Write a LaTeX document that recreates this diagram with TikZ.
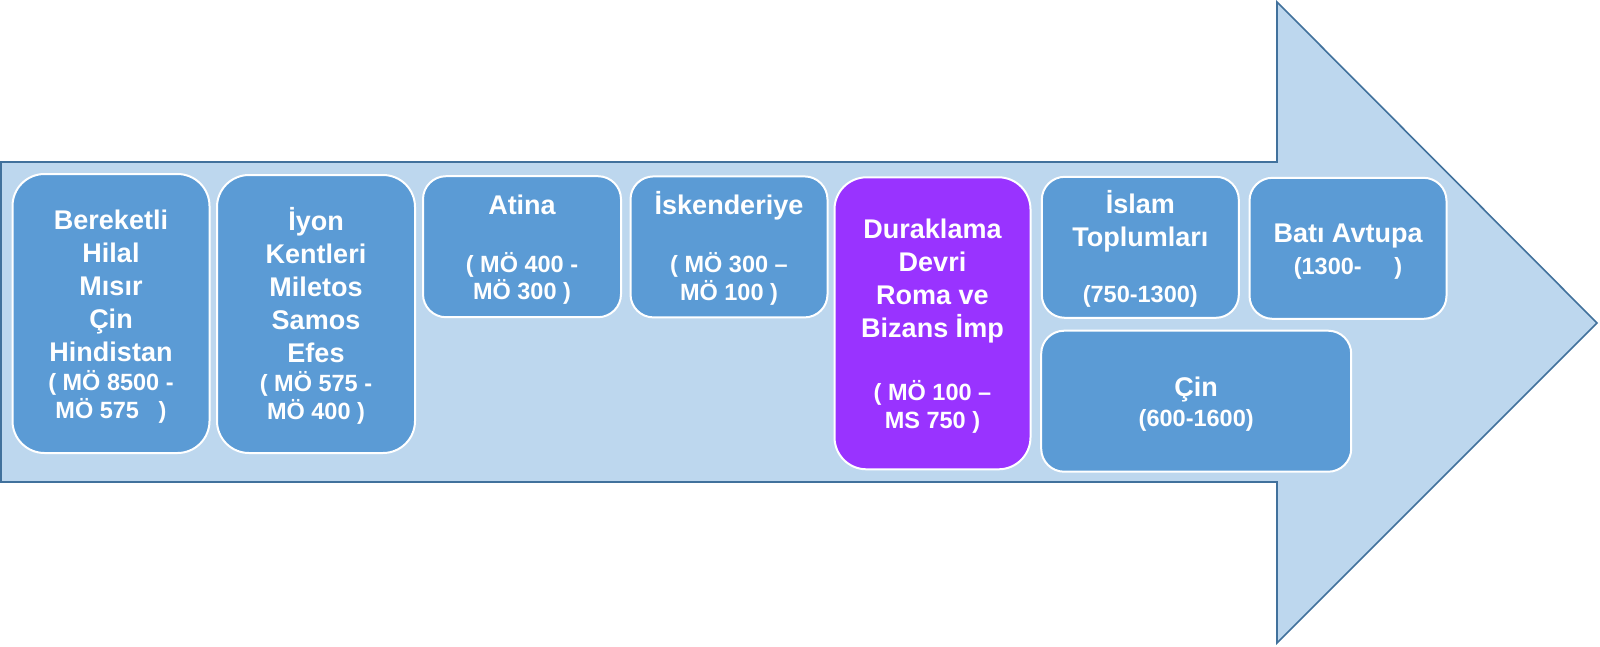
\documentclass[tikz,border=0pt]{standalone}
\usepackage{fontspec}
\setmainfont{Liberation Sans}
\definecolor{arrowfill}{HTML}{BDD7EE}
\definecolor{arrowline}{HTML}{41719C}
\definecolor{boxfill}{HTML}{5B9BD5}
\definecolor{boxpurple}{HTML}{9933FF}
\newcommand{\df}{\fontsize{23.5}{28}\selectfont}
\newcommand{\ta}{\rule{0pt}{26.5pt}}
\newcommand{\tb}{\rule[-5.5pt]{0pt}{5.5pt}}
\begin{document}
\begin{tikzpicture}[x=1pt,y=-1pt,
  bigarrow/.style={fill=arrowfill,draw=arrowline,line width=1.6pt,line join=miter},
  tbox/.style={rectangle,fill=boxfill,draw=white,line width=2pt,text=white,
    align=center,inner sep=0pt,
    font=\fontsize{27}{33}\selectfont\bfseries},
  tall/.style={rounded corners=32pt},
  short/.style={rounded corners=23pt}]
\useasboundingbox (0,0) rectangle (1600,646);
\draw[bigarrow] (1,162) -- (1277,162) -- (1277,2) -- (1597,323) -- (1277,643)
  -- (1277,482) -- (1,482) -- cycle;
\node[tbox,tall,minimum width=197pt,minimum height=279pt] (b1) at (111,313.5)
  {\ta Bereketli\\Hilal\\Mısır\\Çin\\Hindistan\\[-4pt]{\df ( MÖ 8500 -}\\[-5pt]{\df MÖ 575\ \ \ )\tb}};
\node[tbox,tall,minimum width=198pt,minimum height=278pt] (b2) at (316,314)
  {\ta İyon\\Kentleri\\Miletos\\Samos\\Efes\\[-4pt]{\df ( MÖ 575 -}\\[-5pt]{\df MÖ 400 )\tb}};
\node[tbox,short,minimum width=198pt,minimum height=141pt] (b3) at (522,246.7)
  {\ta Atina\\[25pt]{\df ( MÖ 400 -}\\[-5.5pt]{\df MÖ 300 )\tb}};
\node[tbox,short,minimum width=197pt,minimum height=141pt] (b4) at (729,246.9)
  {\ta İskenderiye\\[25pt]{\df ( MÖ 300 –}\\[-5.5pt]{\df MÖ 100 )\tb}};
\node[tbox,tall,fill=boxpurple,minimum width=196pt,minimum height=292pt] (b5) at (932.5,323.3)
  {\ta Duraklama\\Devri\\Roma ve\\Bizans İmp\\[30pt]{\df ( MÖ 100 –}\\[-5pt]{\df MS 750 )\tb}};
\node[tbox,short,minimum width=197pt,minimum height=141pt] (b6) at (1140.3,247.3)
  {\ta İslam\\Toplumları\\[23pt]{\df (750-1300)\tb}};
\node[tbox,short,minimum width=197pt,minimum height=141pt] (b7) at (1348,248.3)
  {\ta Batı Avtupa\\[-1pt]{\df (1300-\ \ \ \ \ )\tb}};
\node[tbox,short,minimum width=310pt,minimum height=141pt] (b8) at (1196.2,401.2)
  {\ta Çin\\[-3pt]{\df (600-1600)\tb}};
\end{tikzpicture}
\end{document}
